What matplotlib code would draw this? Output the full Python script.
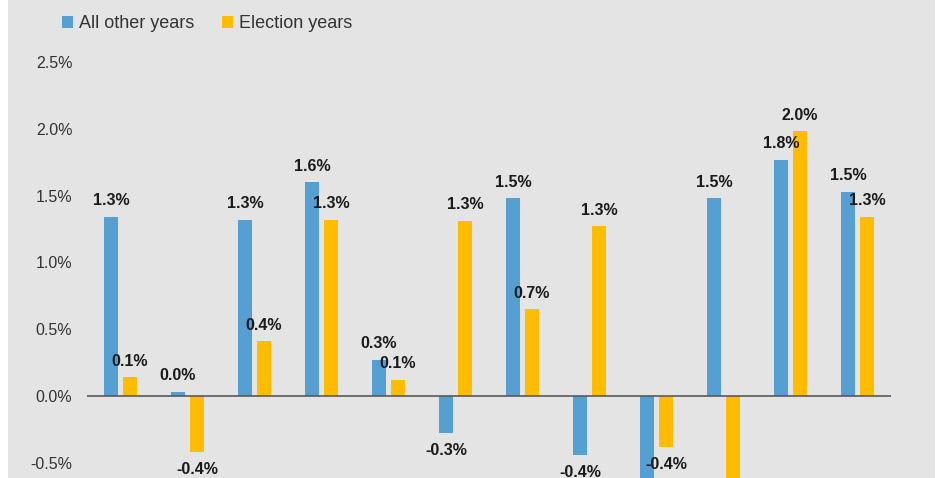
import matplotlib
matplotlib.use("Agg")
import matplotlib.pyplot as plt
import numpy as np
from matplotlib.patches import Rectangle, Patch

series_names = ["All other years", "Election years"]
other_years = [1.34, 0.03, 1.32, 1.60, 0.27, -0.28, 1.48, -0.44, -0.90, 1.48, 1.77, 1.53]
election_years = [0.14, -0.42, 0.41, 1.32, 0.12, 1.31, 0.65, 1.27, -0.38, -0.80, 1.98, 1.34]
labels_other = ["1.3%", "0.0%", "1.3%", "1.6%", "0.3%", "-0.3%", "1.5%", "-0.4%", "-0.9%", "1.5%", "1.8%", "1.5%"]
labels_election = ["0.1%", "-0.4%", "0.4%", "1.3%", "0.1%", "1.3%", "0.7%", "1.3%", "-0.4%", "-0.8%", "2.0%", "1.3%"]
yticks = [-0.5, 0.0, 0.5, 1.0, 1.5, 2.0, 2.5]
ytick_labels = ["-0.5%", "0.0%", "0.5%", "1.0%", "1.5%", "2.0%", "2.5%"]

BLUE = "#559FD3"
YELLOW = "#FFBC00"
BG = "#E4E4E4"
FONT = "Liberation Sans"

W, H = 937, 478
fig = plt.figure(figsize=(W / 100, H / 100), dpi=100, facecolor="white")
fig.patches.append(Rectangle((8 / W, 0), (935 - 8) / W, 1, transform=fig.transFigure,
                             facecolor=BG, edgecolor="none", zorder=-10))

ax = fig.add_axes([87 / W, 0, 804 / W, (478 - 28.6) / H])
ax.set_zorder(2)
ax.set_facecolor("none")
n = len(other_years)
x = np.arange(n)
off = 0.142
bw = 0.21
b1 = ax.bar(x - off, other_years, bw, color=BLUE, zorder=2)
b2 = ax.bar(x + off, election_years, bw, color=YELLOW, zorder=2)
ax.set_xlim(-0.5, n - 0.5)
ax.set_ylim(-0.614, 2.75)
ax.axhline(0, color="#595959", lw=1.2, zorder=3)

for bars, vals, labs in [(b1, other_years, labels_other), (b2, election_years, labels_election)]:
    for rect, v, lab in zip(bars, vals, labs):
        cx = rect.get_x() + rect.get_width() / 2
        dy = 11.5 if v >= 0 else -12.5
        ax.annotate(lab, (cx, v), xytext=(0, dy), textcoords="offset points",
                    ha="center", va="center", fontsize=11.5, color="#1a1a1a",
                    family=FONT, fontweight="bold", zorder=5)

ax.set_yticks(yticks)
ax.set_yticklabels(ytick_labels, family=FONT, fontsize=11.5, color="#333333")
ax.tick_params(axis="y", length=0, pad=10.5)
ax.set_xticks([])
for s in ax.spines.values():
    s.set_visible(False)

handles = [Patch(facecolor=BLUE, edgecolor="none"), Patch(facecolor=YELLOW, edgecolor="none")]
leg = fig.legend(handles, series_names, loc="upper left", bbox_to_anchor=(46 / W, 1 + 1 / H),
                 ncol=2, frameon=False, handlelength=0.6, handleheight=0.7, handletextpad=0.35,
                 columnspacing=1.5, prop={"family": FONT, "size": 13}, labelcolor="#333333")
leg.set_zorder(5)

fig.savefig("out.png", dpi=100, facecolor="white")
